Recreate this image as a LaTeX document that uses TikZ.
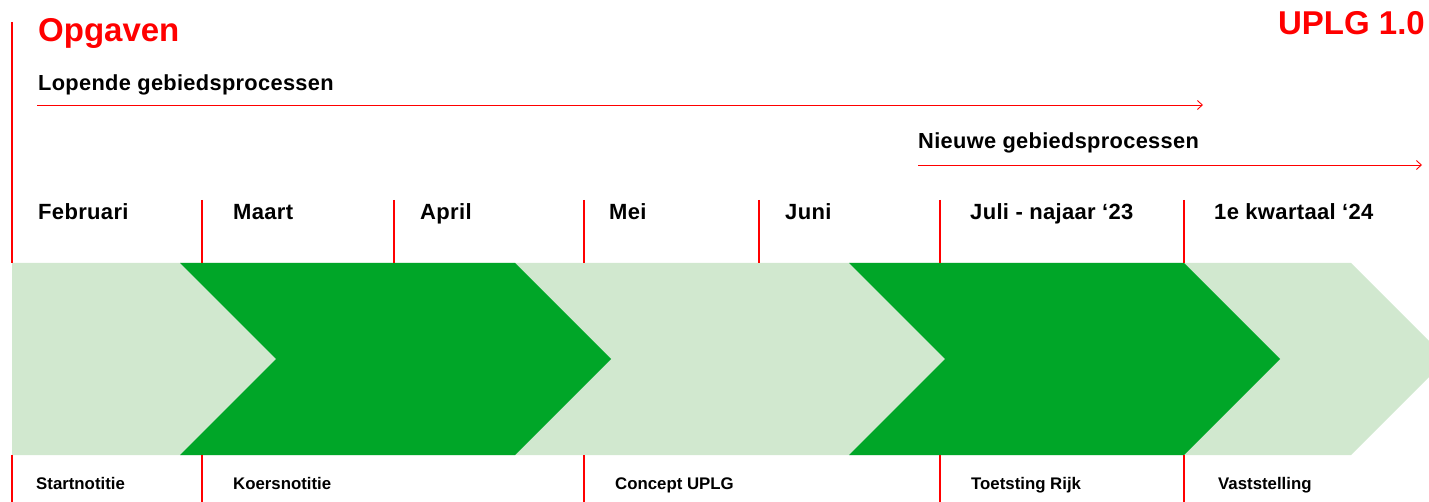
\documentclass[tikz,border=0pt]{standalone}
\usepackage{fontspec}
\setmainfont{Liberation Sans}
\newfontfamily\spacedfont[LetterSpace=1.5]{Liberation Sans}
\usetikzlibrary{arrows.meta}
\definecolor{uplgred}{RGB}{255,0,0}
\definecolor{lightgreen}{RGB}{209,232,207}
\definecolor{darkgreen}{RGB}{0,166,40}
\begin{document}
\begin{tikzpicture}[x=1pt,y=-1pt,
  title/.style={anchor=base west,inner sep=0pt,text=uplgred,font=\fontsize{33}{36}\selectfont\bfseries},
  head/.style={anchor=base west,inner sep=0pt,font=\spacedfont\fontsize{21.8}{26}\selectfont\bfseries},
  month/.style={anchor=base west,inner sep=0pt,font=\spacedfont\fontsize{22}{26}\selectfont\bfseries},
  milestone/.style={anchor=base west,inner sep=0pt,font=\fontsize{16.8}{20}\selectfont\bfseries},
  sep/.style={draw=uplgred,line width=1.2pt},
  flow/.style={draw=uplgred,line width=0.9pt,-{Straight Barb[length=5pt,width=9pt]}}]
\useasboundingbox (0,0) rectangle (1429,502);
\clip (0,0) rectangle (1429,502);
% band
\fill[lightgreen] (12,263) -- (1351,263) -- (1447,359) -- (1351,455) -- (12,455) -- cycle;
\fill[darkgreen] (180,263) -- (515,263) -- (611,359) -- (515,455) -- (180,455) -- (276,359) -- cycle;
\fill[darkgreen] (849,263) -- (1184,263) -- (1280,359) -- (1184,455) -- (849,455) -- (945,359) -- cycle;
% separators
\draw[sep] (12,22) -- (12,263);
\foreach \x in {202,394,584,759,940,1184} \draw[sep] (\x,200) -- (\x,263);
\foreach \x in {12,202,584,940,1184} \draw[sep] (\x,455) -- (\x,502);
% titles
\node[title] (opg) at (38,42) {Opgaven};
\node[title,anchor=base east] (uplg) at (1425,35) {UPLG 1.0};
\node[head] (lop) at (38,91) {Lopende gebiedsprocessen};
\node[head] (nieuw) at (918,149) {Nieuwe gebiedsprocessen};
\coordinate (lopA) at (37,105);
\coordinate (lopB) at (1203,105);
\coordinate (nwA) at (918,165);
\coordinate (nwB) at (1422,165);
\draw[flow] (lopA) -- (lopB);
\draw[flow] (nwA) -- (nwB);
% months
\node[month] (feb) at (38,220) {Februari};
\node[month] (mrt) at (233,220) {Maart};
\node[month] (apr) at (420,220) {April};
\node[month] (mei) at (609,220) {Mei};
\node[month] (jun) at (785,220) {Juni};
\node[month] (jul) at (970,220) {Juli - najaar ‘23};
\node[month] (kw) at (1214,220) {1e kwartaal ‘24};
% milestones
\node[milestone] (s1) at (36,489) {Startnotitie};
\node[milestone] (s2) at (233,489) {Koersnotitie};
\node[milestone] (s3) at (615,489) {Concept UPLG};
\node[milestone] (s4) at (971,489) {Toetsting Rijk};
\node[milestone] (s5) at (1218,489) {Vaststelling};
\end{tikzpicture}
\end{document}
